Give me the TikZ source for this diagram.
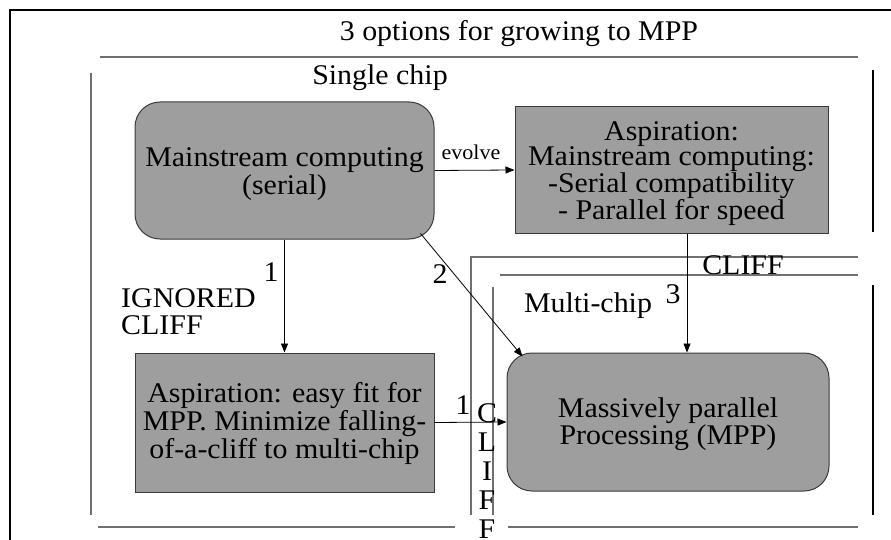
\documentclass[tikz,border=0pt]{standalone}
\usepackage{fontspec}
\setmainfont{Liberation Serif}[FakeStretch=1.05]
\usetikzlibrary{arrows.meta}
\definecolor{boxfill}{HTML}{9E9E9E}
\definecolor{boxline}{HTML}{3A3A3A}
\definecolor{rule}{HTML}{707070}
\begin{document}
\begin{tikzpicture}[x=1pt,y=-1pt,
  bigtext/.style={font=\fontsize{28.5}{27}\selectfont},
  box/.style={draw=boxline,line width=1pt,fill=boxfill,inner sep=0pt},
  roundbox/.style={box,rounded corners=25pt},
  boxtext/.style={bigtext,align=center,inner sep=0pt},
  arr/.style={draw=black,line width=0.8pt,-{Triangle[length=9pt,width=7pt]}},
  grayrule/.style={draw=rule,line width=1.2pt},
  darkrule/.style={draw=black,line width=1.3pt},
  lbl/.style={bigtext,inner sep=0pt}]
\useasboundingbox (0,0) rectangle (891,540);
\fill[white] (0,0) rectangle (891,540);

% outer frame
\draw[black,line width=2.6pt] (10,540) -- (10,10) -- (891,10);
\node[lbl] (title) at (519,34) {3 options for growing to MPP};
\draw[grayrule] (100,57) -- (858,57);

% single-chip region borders
\draw[grayrule] (91,73) -- (91,515);
\draw[darkrule] (873,70) -- (873,232);
\draw[darkrule] (873,285) -- (873,515);
\draw[grayrule] (98,527) -- (455,527);
\draw[grayrule] (508,527) -- (858,527);
\node[lbl] (single) at (380,78) {Single chip};

% cliff boundary
\draw[grayrule] (471,515) -- (471,257) -- (858,257);
\draw[grayrule] (500,275) -- (858,275);
\draw[grayrule] (493,287) -- (493,515);
\node[lbl] (cliffh) at (743,265) {CLIFF};
\node[lbl,align=center,font=\fontsize{28.5}{29}\selectfont] (cliffv) at (487,471) {C\\L\\I\\F\\F};
\node[lbl] (multi) at (588,306) {Multi-chip};

% boxes
\node[roundbox,minimum width=299pt,minimum height=137pt] (main) at (284.5,170.5) {};
\node[boxtext,font=\fontsize{28.5}{28}\selectfont] (maintext) at ([yshift=-4pt]main.center)
  {Mainstream computing\\(serial)};
\node[box,minimum width=313pt,minimum height=126pt] (asp1) at (671.5,170) {};
\node[boxtext,font=\fontsize{28.5}{25.3}\selectfont] (asp1text) at ([yshift=-3.5pt]asp1.center)
  {Aspiration:\\Mainstream computing:\\-Serial compatibility\\- Parallel for speed};
\node[box,minimum width=299pt,minimum height=139pt] (asp2) at (284.5,422.5) {};
\node[boxtext,font=\fontsize{28.5}{28}\selectfont] (asp2text) at ([yshift=-1pt]asp2.center)
  {Aspiration: easy fit for\\MPP. Minimize falling-\\of-a-cliff to multi-chip};
\node[roundbox,minimum width=322pt,minimum height=138pt] (mpp) at (668,422) {};
\node[boxtext] (mpptext) at ([yshift=-2.5pt]mpp.center)
  {Massively parallel\\Processing (MPP)};

% connectors
\draw[arr] (main.east) -- (asp1.west);
\node[inner sep=0pt,font=\fontsize{21}{21}\selectfont] (evolve) at (471,152) {evolve};

\draw[arr] (main) -- (asp2);
\node[lbl] (one) at (271,272) {1};
\node[lbl,align=left,anchor=west] (ignored) at (121,312) {IGNORED\\CLIFF};

\draw[arr] (asp2.east) -- (mpp.west);
\node[lbl] (oneb) at (463,405) {1};

\draw[arr] ([xshift=-14pt,yshift=6pt]main.south east) -- ([xshift=16pt,yshift=-4pt]mpp.north west);
\node[lbl] (two) at (440,274) {2};

\draw[arr] ([xshift=15.5pt]asp1.south) -- ([xshift=15.5pt]asp1.south |- mpp.north);
\node[lbl] (three) at (673,294) {3};
\end{tikzpicture}
\end{document}
